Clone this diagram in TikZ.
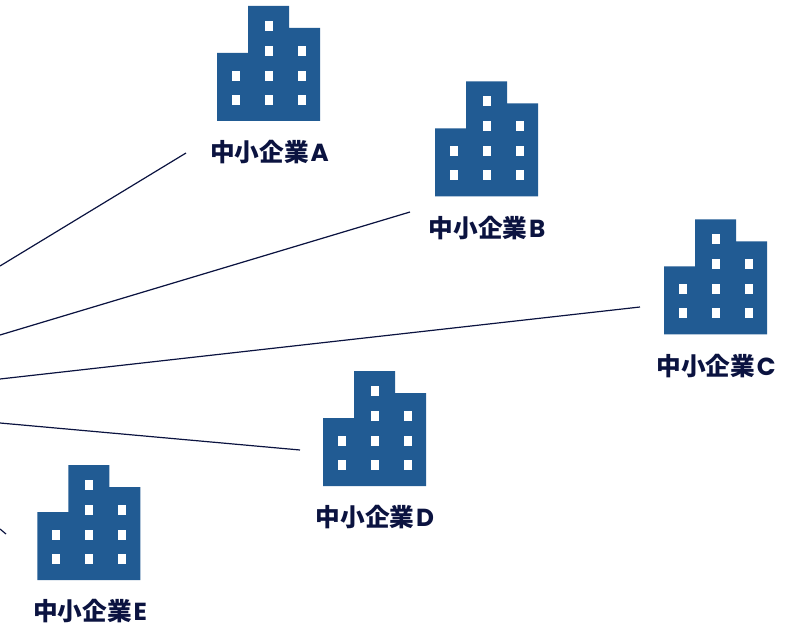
\documentclass[tikz,border=0pt]{standalone}
\usepackage{fontspec}
\setmainfont{Noto Sans CJK JP}
\newfontfamily\latinfont{Poppins}
\usetikzlibrary{positioning}
\definecolor{bldblue}{HTML}{215B93}
\definecolor{inknavy}{HTML}{0B1340}
\tikzset{
    link/.style={draw=inknavy, line width=0.9pt},
    caption/.style={text=inknavy, font=\fontsize{18.5}{20}\selectfont\bfseries, inner sep=0pt}
}
% one office block, (#1,#2) is its lower left corner
\newcommand{\officeblock}[2]{
    \begin{scope}[shift={(#1,#2)}]
        \fill[bldblue] (0,0) -- (0,68) -- (31,68) -- (31,115) -- (72,115) -- (72,93) -- (103,93) -- (103,0) -- cycle;
        \foreach \wx/\wy in {19/21, 19/45, 52/21, 52/45, 52/70, 52/95, 85/21, 85/45, 85/70} {
            \fill[white] (\wx-4,\wy-5) rectangle (\wx+4,\wy+5);
        }
    \end{scope}
}
\begin{document}
\begin{tikzpicture}[x=0.75pt,y=-0.75pt]
    \useasboundingbox (0,0) rectangle (797,624);

    % Buildings
    \begin{scope}[y=0.75pt]
        \officeblock{217}{-121}
        \officeblock{435}{-196.5}
        \officeblock{664}{-334.5}
        \officeblock{323}{-486}
        \officeblock{37.4}{-580}
    \end{scope}

    % Captions
    \node[caption] (capA) at (269.5,152) {中小企業\hspace{0.07em}{\latinfont A}};
    \node[caption] (capB) at (487,228) {中小企業\hspace{0.07em}{\latinfont B}};
    \node[caption] (capC) at (716,366) {中小企業\hspace{0.07em}{\latinfont C}};
    \node[caption] (capD) at (375,517) {中小企業\hspace{0.07em}{\latinfont D}};
    \node[caption] (capE) at (90,611) {中小企業\hspace{0.07em}{\latinfont E}};

    % Lines coming in from the left edge
    \coordinate (inA) at (0,266);
    \coordinate (inB) at (0,335);
    \coordinate (inC) at (0,379);
    \coordinate (inD) at (0,423);
    \coordinate (inE) at (0,529);
    \coordinate (endA) at (186,153);
    \coordinate (endB) at (410,212);
    \coordinate (endC) at (640,307);
    \coordinate (endD) at (300,450);
    \coordinate (endE) at (6,534);
    \foreach \n in {A, B, C, D, E} {
        \draw[link] (in\n) -- (end\n);
    }
\end{tikzpicture}
\end{document}
